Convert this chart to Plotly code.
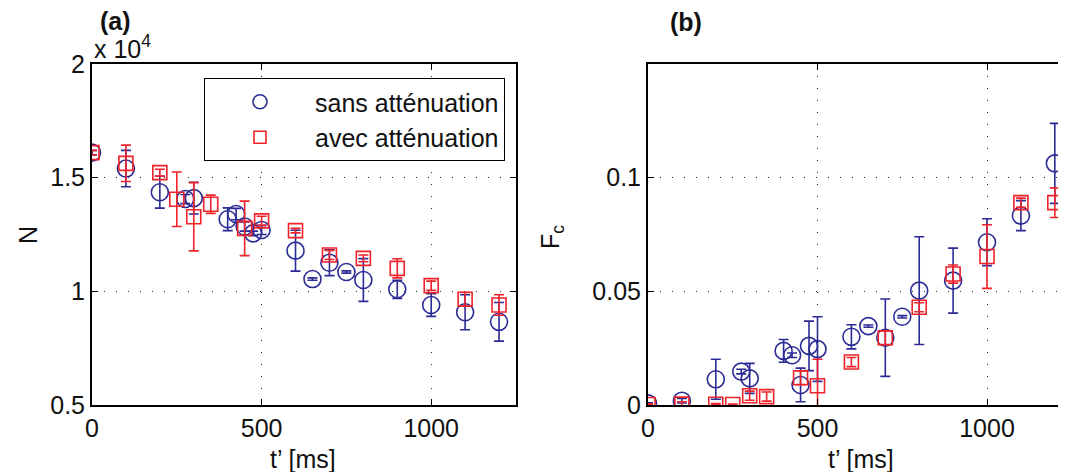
import plotly.graph_objects as go

# ---- Data: panel (a)  N in units of 1e4 ----
t_a_sans = [0, 100, 200, 275, 300, 400, 425, 450, 475, 500, 600, 650, 700, 750, 800, 900, 1000, 1100, 1200]
N_sans = [1.61, 1.54, 1.436, 1.406, 1.41, 1.317, 1.34, 1.285, 1.255, 1.27, 1.179, 1.054, 1.126, 1.085, 1.05, 1.009, 0.94, 0.908, 0.866]
N_sans_err = [0.01, 0.08, 0.07, 0.02, 0.07, 0.05, 0.025, 0.02, 0.01, 0.02, 0.09, 0.005, 0.057, 0.005, 0.094, 0.04, 0.05, 0.077, 0.085]

t_a_avec = [0, 100, 200, 250, 300, 350, 450, 500, 600, 700, 800, 900, 1000, 1100, 1200]
N_avec = [1.61, 1.563, 1.522, 1.405, 1.328, 1.383, 1.277, 1.31, 1.267, 1.16, 1.145, 1.101, 1.025, 0.965, 0.94]
N_avec_err = [0.01, 0.08, 0.015, 0.12, 0.15, 0.04, 0.12, 0.02, 0.01, 0.02, 0.015, 0.042, 0.02, 0.03, 0.045]

# ---- Data: panel (b)  Fc ----
t_b_sans = [0, 100, 200, 275, 300, 400, 425, 450, 475, 500, 600, 650, 700, 750, 800, 900, 1000, 1100, 1200]
F_sans = [0.0007, 0.0019, 0.0113, 0.0147, 0.0117, 0.0238, 0.0219, 0.0088, 0.026, 0.0246, 0.030, 0.0347, 0.0296, 0.0388, 0.0503, 0.0547, 0.0716, 0.0833, 0.1063]
F_sans_err = [0.0003, 0.001, 0.0088, 0.001, 0.0066, 0.005, 0.001, 0.0074, 0.0109, 0.0142, 0.0053, 0.0005, 0.017, 0.0005, 0.0237, 0.0143, 0.0103, 0.0066, 0.0176]

t_b_avec = [0, 100, 200, 250, 300, 350, 450, 500, 600, 700, 800, 900, 1000, 1100, 1200]
F_avec = [0.0002, 0.0004, 0.0003, 0.0002, 0.0041, 0.0037, 0.012, 0.0085, 0.0189, 0.0296, 0.043, 0.0576, 0.0653, 0.089, 0.089]
F_avec_err = [0.0003, 0.001, 0.0003, 0.0002, 0.002, 0.002, 0.003, 0.0116, 0.002, 0.003, 0.002, 0.004, 0.014, 0.002, 0.0065]

legend_labels = ["sans atténuation", "avec atténuation"]
xticks = [0, 500, 1000]
yticks_a = [0.5, 1, 1.5, 2]
yticks_b = [0, 0.05, 0.1]

BLUE = "#2b2b96"
RED = "#f0222a"
FONT = "Liberation Sans, Arial, Helvetica, sans-serif"
FS = 25

# The page body adds an 8px margin; work in page pixels and shift.
OFF = 8
W, H = 1066 - OFF, 472 - OFF

def px(x):
    return (x - OFF) / W

def py(y):
    return 1 - (y - OFF) / H

fig = go.Figure()

def add_series(x, y, e, color, symbol, size, xa, ya):
    fig.add_trace(go.Scatter(
        x=x, y=y, mode="markers", xaxis=xa, yaxis=ya, showlegend=False,
        marker=dict(symbol=symbol, size=size, color=color,
                    line=dict(color=color, width=1.6)),
        error_y=dict(type="data", array=e, visible=True, color=color,
                     thickness=1.6, width=5),
    ))

add_series(t_a_sans, N_sans, N_sans_err, BLUE, "circle-open", 17, "x", "y")
add_series(t_a_avec, N_avec, N_avec_err, RED, "square-open", 14, "x", "y")
add_series(t_b_sans, F_sans, F_sans_err, BLUE, "circle-open", 17, "x2", "y2")
add_series(t_b_avec, F_avec, F_avec_err, RED, "square-open", 14, "x2", "y2")

# legend entries
fig.add_trace(go.Scatter(x=[None], y=[None], mode="markers", name=legend_labels[0],
                         marker=dict(symbol="circle-open", size=14, line=dict(color=BLUE, width=1.6), color=BLUE)))
fig.add_trace(go.Scatter(x=[None], y=[None], mode="markers", name=legend_labels[1],
                         marker=dict(symbol="square-open", size=12, line=dict(color=RED, width=1.6), color=RED)))

grid = dict(showgrid=True, gridcolor="#222222", gridwidth=1, griddash="1px,11px",
            zeroline=False, showline=True, linecolor="black", linewidth=2,
            ticks="inside", ticklen=6, tickcolor="black", automargin=False,
            tickfont=dict(family=FONT, size=FS, color="#111111"))

def ann(text, x, y, angle=0):
    return dict(text=text, x=px(x), y=py(y), xref="paper", yref="paper",
                showarrow=False, textangle=angle, xanchor="center", yanchor="middle",
                font=dict(family=FONT, size=FS, color="#111111"))

fig.update_layout(
    width=W, height=H,
    margin=dict(l=0, r=0, t=0, b=0, autoexpand=False),
    paper_bgcolor="white", plot_bgcolor="white",
    font=dict(family=FONT, size=FS, color="#111111"),
    xaxis=dict(domain=[px(92), px(516)], range=[0, 1250], tickvals=xticks,
               mirror="ticks", anchor="y", **grid),
    yaxis=dict(domain=[py(405), py(64)], range=[0.5, 2], tickvals=yticks_a,
               ticktext=["0.5", "1", "1.5", "2"], mirror="ticks", anchor="x", **grid),
    xaxis2=dict(domain=[px(648), 1.0], range=[0, 1233], tickvals=xticks,
                mirror="ticks", anchor="y2", **grid),
    yaxis2=dict(domain=[py(405), py(64)], range=[0, 0.15], tickvals=yticks_b,
                ticktext=["0", "0.05", "0.1"], mirror=False, anchor="x2", **grid),
    legend=dict(x=px(505), y=py(78), xanchor="right", yanchor="top",
                bgcolor="white", bordercolor="black", borderwidth=1,
                font=dict(family=FONT, size=25, color="#111111"),
                itemwidth=100, tracegroupgap=0),
    annotations=[
        ann("<b>(a)</b>", 115, 21),
        ann("x 10<sup>4</sup>", 122, 47),
        ann("<b>(b)</b>", 686, 22),
        ann("N", 28, 235, -90),
        ann("F<sub>c</sub>", 552, 237, -90),
        ann("t’ [ms]", 303, 459),
        ann("t’ [ms]", 861, 459),
    ],
)

fig.write_html("out.html")
